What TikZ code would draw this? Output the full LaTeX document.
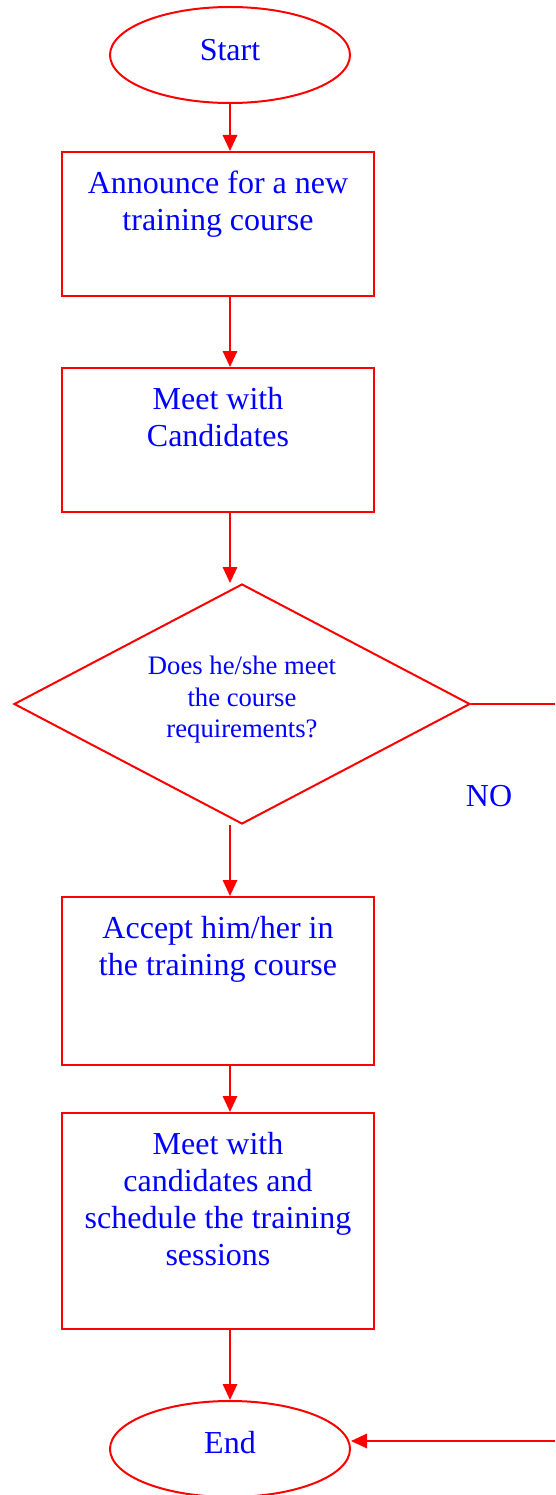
\documentclass[tikz,border=0pt]{standalone}
\usepackage{fontspec}
\setmainfont{Liberation Serif}
\usetikzlibrary{shapes.geometric,arrows.meta}

\begin{document}
\begin{tikzpicture}[x=0.375pt, y=-0.375pt, line width=0.75pt,
    box/.style={draw=red, rectangle, minimum width=117pt, inner sep=0pt},
    term/.style={draw=red, ellipse, minimum width=90pt, minimum height=36pt, inner sep=0pt},
    txt/.style={text=blue, align=center, inner sep=0pt, font=\fontsize{12}{13.8}\selectfont},
    arr/.style={draw=red, -{Triangle[length=6pt, width=5.4pt]}}]
    \useasboundingbox (0, 0) rectangle (555, 1495);

    \node [term] (start) at (230, 55) {};
    \node [box, minimum height=54pt] (box1) at (218, 224) {};
    \node [box, minimum height=54pt] (box2) at (218, 440) {};
    \node [draw=red, diamond, minimum width=171pt, minimum height=90pt, inner sep=0pt] (dia) at (242, 704) {};
    \node [box, minimum height=63pt] (box3) at (218, 981) {};
    \node [box, minimum height=81pt] (box4) at (218, 1221) {};
    \node [term] (end) at (230, 1449) {};

    \node [txt] (tstart) at (230, 50) {Start};
    \node [txt] (t1) at (218, 204) {Announce for a new\\training course};
    \node [txt] (t2) at (218, 417) {Meet with\\Candidates};
    \node [txt, font=\fontsize{10}{11.8}\selectfont] (tdia) at (242, 700) {Does he/she meet\\the course\\requirements?};
    \node [txt] (t3) at (218, 949) {Accept him/her in\\the training course};
    \node [txt] (t4) at (218, 1199) {Meet with\\candidates and\\schedule the training\\sessions};
    \node [txt] (tend) at (230, 1443) {End};
    \node [txt] (no) at (489, 796) {NO};

    \draw [arr] (start.south) -- (start.south |- box1.north);
    \draw [arr] (start.south |- box1.south) -- (start.south |- box2.north);
    \draw [arr] (start.south |- box2.south) -- (start.south |- dia.north);
    \draw [arr] (start.south |- dia.south) -- (start.south |- box3.north);
    \draw [arr] (start.south |- box3.south) -- (start.south |- box4.north);
    \draw [arr] (start.south |- box4.south) -- (end.north);

    \coordinate (edge1) at (555, 704);
    \coordinate (edge2) at (555, 1441);
    \draw [red] (dia.east) -- (edge1);
    \draw [arr] (edge2) -- (edge2 -| end.east);
\end{tikzpicture}
\end{document}
